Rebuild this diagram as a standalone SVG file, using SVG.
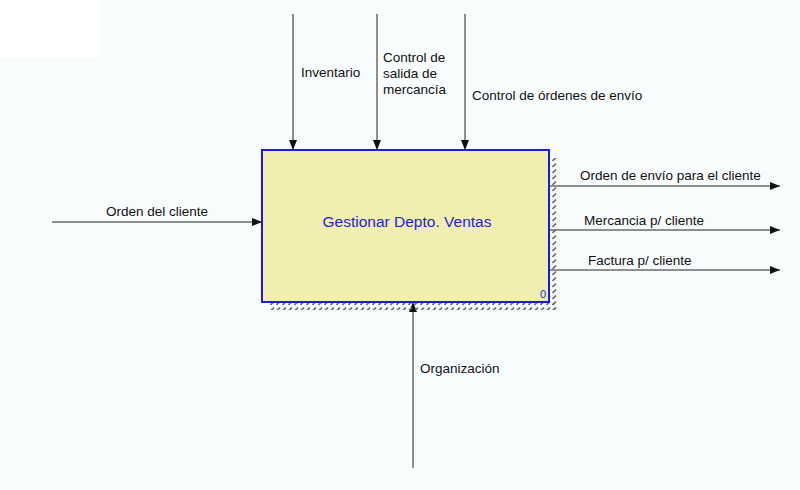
<svg xmlns="http://www.w3.org/2000/svg" width="800" height="490" viewBox="0 0 800 490">
<defs>
<style>
text{font-family:"Liberation Sans",Arial,sans-serif;font-size:13.5px;fill:#111}
.ln{stroke:#222;stroke-width:1;fill:none}
.title{fill:#1f1fd6;font-size:15.5px}
.num{fill:#1f1fd6;font-size:11px}
</style>
<marker id="ah" viewBox="0 0 10 10" refX="10" refY="5" markerWidth="10" markerHeight="10" markerUnits="userSpaceOnUse" orient="auto">
<path d="M0,1 L10,5 L0,9 Z" fill="#111"/>
</marker>
<pattern id="hatch" width="6" height="6" patternUnits="userSpaceOnUse">
<path d="M0.5,5 L4,1.5" stroke="#666" stroke-width="1.6"/>
</pattern>
</defs>
<rect width="800" height="490" fill="#f8fcfd"/>
<rect width="100" height="58" fill="#ffffff"/>
<g id="connectors">
<line class="ln" x1="293" y1="14" x2="293" y2="150" marker-end="url(#ah)"/>
<line class="ln" x1="377" y1="14" x2="377" y2="150" marker-end="url(#ah)"/>
<line class="ln" x1="465" y1="14" x2="465" y2="150" marker-end="url(#ah)"/>
<line class="ln" x1="52" y1="222" x2="262" y2="222" marker-end="url(#ah)"/>
<line class="ln" x1="550" y1="186" x2="780" y2="186" marker-end="url(#ah)"/>
<line class="ln" x1="550" y1="230" x2="780" y2="230" marker-end="url(#ah)"/>
<line class="ln" x1="550" y1="270" x2="780" y2="270" marker-end="url(#ah)"/>
<line class="ln" x1="413" y1="468" x2="413" y2="302" marker-end="url(#ah)"/>
<text x="301" y="77">Inventario</text>
<text x="383" y="62">Control de</text>
<text x="383" y="78">salida de</text>
<text x="383" y="94">mercancía</text>
<text x="472" y="100">Control de órdenes de envío</text>
<text x="106" y="216">Orden del cliente</text>
<text x="580" y="180">Orden de envío para el cliente</text>
<text x="584" y="225">Mercancia p/ cliente</text>
<text x="588" y="265">Factura p/ cliente</text>
<text x="420" y="373">Organización</text>
</g>
<g id="node-0">
<rect x="550" y="158" width="7" height="152" fill="url(#hatch)"/>
<rect x="270" y="303" width="287" height="7" fill="url(#hatch)"/>
<rect x="262" y="150" width="287" height="152" fill="#f0eeb0" stroke="#1a1ae0" stroke-width="2"/>
<text class="title" x="407" y="227" text-anchor="middle">Gestionar Depto. Ventas</text>
<text class="num" x="540" y="298">0</text>
</g>
</svg>
